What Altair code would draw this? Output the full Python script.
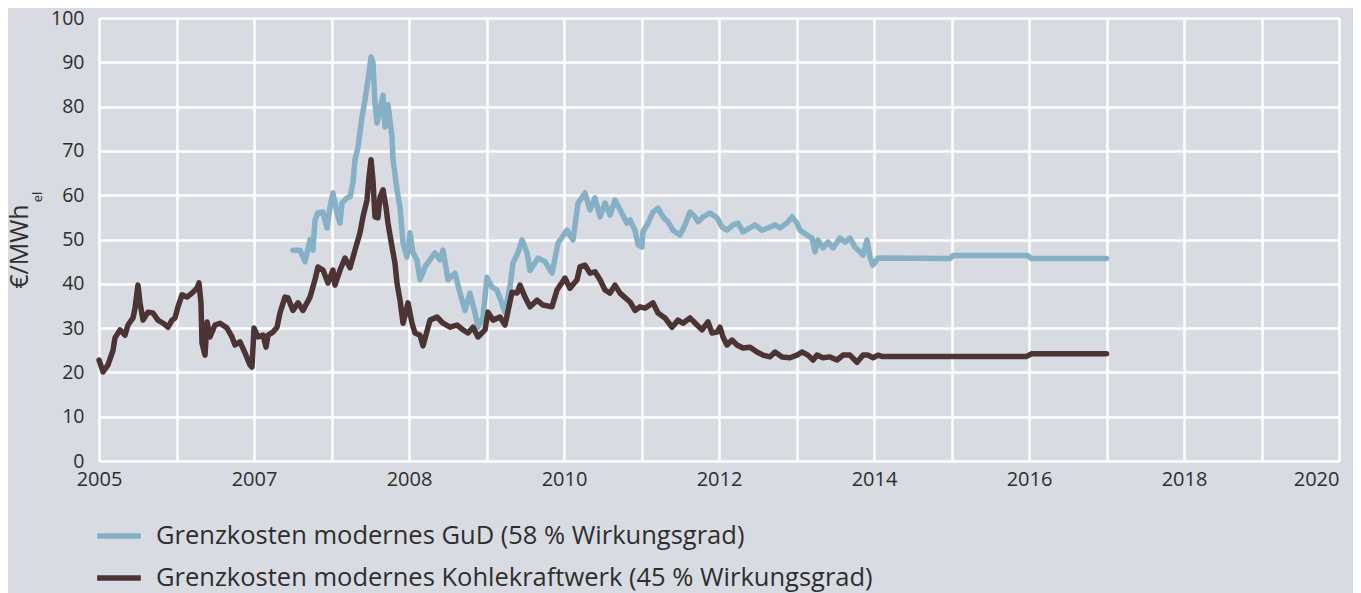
import altair as alt
import pandas as pd

# x positions are in axis-grid units (0 = first gridline "2005", 16 = last gridline "2020")
gas_t = [2.503, 2.594, 2.658, 2.723, 2.761, 2.787, 2.826, 2.890, 2.942, 2.981, 3.019, 3.071, 3.110, 3.135,
         3.200, 3.239, 3.277, 3.303, 3.342, 3.394, 3.432, 3.471, 3.510, 3.535, 3.561, 3.587, 3.626, 3.665,
         3.690, 3.729, 3.781, 3.794, 3.845, 3.884, 3.923, 3.974, 4.013, 4.052, 4.103, 4.142, 4.206, 4.271,
         4.335, 4.400, 4.439, 4.503, 4.594, 4.658, 4.723, 4.787, 4.852, 4.890, 4.955, 5.006, 5.071, 5.135,
         5.239, 5.303, 5.342, 5.406, 5.458, 5.523, 5.561, 5.665, 5.755, 5.845, 5.923, 6.039, 6.116, 6.181,
         6.271, 6.335, 6.400, 6.465, 6.529, 6.594, 6.658, 6.723, 6.813,
         6.852, 6.916, 6.955, 7.006, 7.019, 7.084, 7.148, 7.213, 7.277, 7.342, 7.406, 7.497, 7.561, 7.626,
         7.690, 7.729, 7.794, 7.884, 7.974, 8.039, 8.103, 8.181, 8.245, 8.310, 8.400, 8.465, 8.555, 8.632,
         8.723, 8.787, 8.877, 8.942, 9.006, 9.045, 9.135, 9.200, 9.239, 9.277, 9.342, 9.406, 9.471, 9.561,
         9.626, 9.690, 9.755, 9.819, 9.858, 9.910, 9.948, 9.987, 10.052, 10.980,
         11.020, 11.980, 12.030, 13.000]
gas_v = [47.6, 47.6, 45.0, 50.0, 47.6, 54.4, 56.0, 56.2, 52.6, 57.3, 60.5, 56.0, 53.7, 58.2,
         59.4, 59.6, 62.8, 68.0, 70.9, 77.7, 81.5, 86.0, 91.2, 89.8, 80.8, 76.3, 79.2, 82.6,
         75.4, 80.4, 73.1, 68.0, 61.2, 57.3, 49.2, 46.0, 51.5, 47.0, 45.4, 40.9, 43.8, 45.4,
         47.0, 45.4, 47.6, 40.9, 42.4, 37.9, 34.0, 37.9, 33.4, 30.2, 32.5, 41.5, 39.3, 38.6,
         33.6, 39.3, 44.7, 47.0, 49.9, 47.0, 43.0, 45.8, 45.0, 42.4, 49.2, 52.1, 49.9, 58.2,
         60.5, 56.7, 59.4, 55.1, 58.2, 55.5, 58.9, 56.7, 53.7,
         54.4, 52.1, 48.8, 48.3, 51.7, 53.7, 56.2, 57.1, 55.1, 54.0, 52.1, 51.0, 53.3, 56.2,
         55.1, 54.0, 55.1, 56.0, 54.9, 52.8, 52.1, 53.3, 53.7, 51.7, 52.6, 53.3, 52.1, 52.6,
         53.3, 52.6, 53.7, 55.1, 53.7, 52.1, 51.0, 50.3, 47.2, 49.9, 48.1, 49.4, 48.1, 50.3,
         49.4, 50.3, 48.3, 47.2, 46.5, 49.9, 46.0, 44.2, 45.8, 45.7,
         46.4, 46.4, 45.7, 45.7]

coal_t = [0.000, 0.052, 0.116, 0.181, 0.206, 0.271, 0.335, 0.374, 0.439, 0.465, 0.503, 0.529, 0.568, 0.632,
          0.697, 0.761, 0.826, 0.890, 0.942, 0.981, 1.019, 1.071, 1.135, 1.200, 1.265, 1.290, 1.316, 1.329,
          1.368, 1.394, 1.432, 1.497, 1.561, 1.652, 1.716, 1.755, 1.819, 1.884, 1.948, 1.974, 2.000, 2.052,
          2.116, 2.155, 2.181, 2.245, 2.297, 2.335, 2.400, 2.439, 2.503, 2.568, 2.632, 2.723, 2.787, 2.826,
          2.890, 2.955, 3.019, 3.045, 3.110, 3.174, 3.239, 3.303, 3.368, 3.406, 3.458, 3.484, 3.510, 3.535,
          3.561, 3.600, 3.626, 3.665, 3.703, 3.729, 3.781, 3.819, 3.845, 3.884, 3.923, 3.987, 4.039, 4.077,
          4.142, 4.181, 4.271, 4.361, 4.439, 4.529, 4.619, 4.697, 4.761, 4.826, 4.890, 4.981, 5.019, 5.084,
          5.174, 5.239, 5.329, 5.394, 5.432, 5.497, 5.561, 5.652, 5.729, 5.845, 5.910, 6.013, 6.077, 6.168,
          6.206, 6.271, 6.335, 6.400, 6.465, 6.529, 6.594, 6.658, 6.723,
          6.852, 6.916, 6.981, 7.045, 7.148, 7.213, 7.303, 7.394, 7.471, 7.535, 7.626, 7.716, 7.781, 7.858,
          7.910, 7.974, 8.013, 8.052, 8.103, 8.168, 8.232, 8.310, 8.400, 8.490, 8.568, 8.658, 8.723, 8.813,
          8.916, 9.006, 9.071, 9.148, 9.213, 9.265, 9.342, 9.432, 9.523, 9.600, 9.690, 9.781, 9.858, 9.923,
          9.987, 10.052, 10.100, 11.970, 12.030, 13.000]
coal_v = [22.8, 20.1, 21.7, 25.0, 27.8, 29.6, 28.4, 30.7, 32.3, 34.5, 39.7, 35.7, 31.8, 33.6,
          33.4, 31.8, 31.1, 30.2, 31.8, 32.3, 34.8, 37.5, 37.0, 37.9, 39.0, 40.2, 35.7, 26.6,
          23.9, 31.4, 28.0, 30.7, 31.1, 30.0, 28.0, 26.2, 26.9, 24.4, 21.7, 21.2, 30.0, 28.0,
          28.4, 25.7, 28.4, 29.1, 30.2, 33.4, 37.0, 36.8, 34.0, 35.7, 34.0, 37.0, 40.9, 43.8,
          43.1, 40.2, 43.1, 39.7, 43.1, 45.8, 43.6, 47.6, 51.5, 55.1, 58.9, 64.1, 68.0, 63.4,
          55.1, 54.9, 59.6, 61.2, 57.3, 53.7, 48.3, 44.7, 40.2, 36.3, 31.1, 35.7, 31.1, 28.9,
          28.4, 26.0, 31.8, 32.5, 31.1, 30.2, 30.7, 29.6, 28.9, 30.2, 28.0, 29.6, 33.6, 31.8,
          32.5, 30.7, 38.1, 37.9, 39.7, 37.0, 34.8, 36.3, 35.2, 34.8, 38.6, 41.3, 39.0, 40.9,
          43.8, 44.2, 42.4, 42.7, 40.9, 38.6, 37.9, 39.7, 37.9,
          35.9, 34.0, 34.8, 34.5, 35.7, 33.4, 32.3, 30.2, 31.8, 31.1, 32.3, 30.7, 29.6, 31.4,
          28.9, 29.1, 30.2, 28.0, 26.2, 27.3, 26.2, 25.5, 25.7, 24.6, 23.9, 23.5, 24.6, 23.5,
          23.3, 23.9, 24.6, 23.9, 22.8, 23.9, 23.3, 23.5, 22.8, 23.9, 23.9, 22.3, 23.9, 23.9,
          23.3, 23.9, 23.6, 23.6, 24.2, 24.2]

series_names = ["Grenzkosten modernes GuD (58 % Wirkungsgrad)",
                "Grenzkosten modernes Kohlekraftwerk (45 % Wirkungsgrad)"]
series_colors = ["#86b0c5", "#4b3433"]
x_labels = ["2005", "2007", "2008", "2010", "2012", "2014", "2016", "2018", "2020"]
y_ticks = [0, 10, 20, 30, 40, 50, 60, 70, 80, 90, 100]

df = pd.concat([
    pd.DataFrame({"t": gas_t, "v": gas_v, "s": series_names[0]}),
    pd.DataFrame({"t": coal_t, "v": coal_v, "s": series_names[1]}),
])

label_arr = "[" + ",".join("'" + l + "'" for l in x_labels) + "]"
label_expr = "datum.value % 2 == 0 ? " + label_arr + "[datum.value / 2] : ''"
FONT = "Open Sans"
TXT = "#2e2e2e"

lines = alt.Chart(df).mark_line(strokeWidth=5.5, strokeJoin="round", strokeCap="round").encode(
    x=alt.X("t:Q", scale=alt.Scale(domain=[0, 16], nice=False, zero=False),
            axis=alt.Axis(values=list(range(17)), grid=True, gridColor="white", gridWidth=2.5,
                          domain=False, ticks=False, labelPadding=8, labelFontSize=20,
                          labelFlush=False, labelOverlap=False,
                          labelAlign={"condition": {"test": "datum.value == 16", "value": "right"},
                                      "value": "center"},
                          labelFont=FONT, labelColor=TXT, title=None,
                          labelExpr=label_expr)),
    y=alt.Y("v:Q", scale=alt.Scale(domain=[0, 100], nice=False),
            axis=alt.Axis(values=y_ticks, grid=True, gridColor="white", gridWidth=2.5,
                          domain=False, ticks=False, labelPadding=15, labelFontSize=19.5,
                          labelFont=FONT, labelColor=TXT, title="€/MWh", titleFont=FONT,
                          titleFontSize=25, titleFontWeight="normal", titleColor=TXT,
                          titleAngle=270, titleAlign="center", titleBaseline="bottom",
                          titleX=-67, titleY=228)),
    color=alt.Color("s:N", scale=alt.Scale(domain=series_names, range=series_colors),
                    legend=alt.Legend(title=None, orient="none", legendX=-5, legendY=493,
                                      direction="vertical", symbolType="stroke",
                                      symbolStrokeWidth=5.5, symbolSize=1900, rowPadding=3,
                                      labelFont=FONT, labelFontSize=25.5, labelColor=TXT,
                                      labelOffset=12, labelLimit=1000)),
    detail="s:N",
)

sub = alt.Chart(pd.DataFrame({"txt": ["el"]})).mark_text(
    angle=270, font=FONT, fontSize=13, color=TXT, align="center", baseline="bottom"
).encode(x=alt.value(-54), y=alt.value(179), text="txt:N")

chart = alt.layer(lines, sub).properties(
    width=1240, height=443,
    autosize=alt.AutoSizeParams(type="none"),
    padding={"left": 91, "top": 10, "right": 14, "bottom": 132},
    background="#d8dbe2",
).configure_view(stroke=None)

chart.save("out.html", embed_options={"renderer": "svg", "actions": False})
